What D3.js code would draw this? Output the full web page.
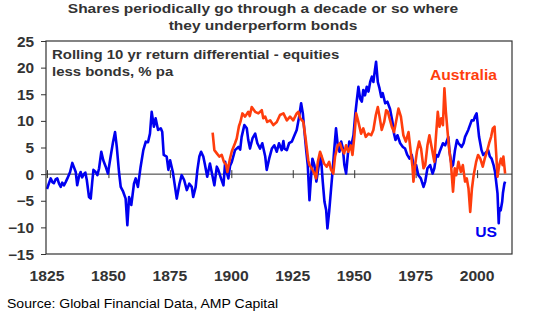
<!DOCTYPE html>
<html lang="en">
<head>
  <meta charset="utf-8">
  <title>Shares vs bonds</title>
  <script src="https://d3js.org/d3.v7.min.js"></script>
  <style>
    body { margin: 0; background: #fff; }
    .line { fill: none; stroke-width: 2.6px; stroke-linejoin: round; }
    .tick-label { font: bold 14px "Liberation Sans", Arial, sans-serif; fill: #333; }
    .note { font: bold 13px "Liberation Sans", Arial, sans-serif; fill: #333; }
  </style>
</head>
<body>
<svg width="533" height="321"></svg>
<script>

// rolling 10 yr return, equities less bonds (% pa) -- [year, value]
var usSeries = [
  [1825.0,-2.8],[1825.6,-2.0],[1826.5,-0.8],[1827.2,-1.5],[1827.8,-1.7],[1828.5,-1.0],[1829.2,-0.8],
  [1829.9,-1.8],[1830.6,-2.4],[1831.2,-1.6],[1831.9,-2.1],[1832.6,-1.5],[1833.3,-0.8],[1834.4,0.4],
  [1835.3,2.1],[1835.8,1.5],[1836.7,0.4],[1837.3,-2.1],[1838.0,-0.5],[1838.7,0.4],[1839.3,-0.6],
  [1840.0,0.0],[1840.6,0.3],[1841.2,-1.1],[1842.1,-4.3],[1842.8,-4.6],[1843.4,-1.5],[1843.9,0.8],
  [1844.8,0.4],[1845.5,-0.2],[1846.2,1.1],[1847.1,4.2],[1847.9,2.6],[1848.9,1.4],[1849.8,0.1],
  [1850.9,3.3],[1851.9,6.1],[1852.7,7.9],[1853.4,5.1],[1854.3,0.4],[1855.0,-2.4],[1856.0,-3.3],
  [1857.0,-4.6],[1857.7,-9.6],[1858.4,-4.3],[1859.3,-5.8],[1860.4,-1.8],[1861.1,-0.8],[1862.0,-2.4],
  [1863.1,1.4],[1864.2,4.5],[1865.2,6.1],[1866.1,6.0],[1866.9,7.6],[1867.6,11.7],[1868.5,8.9],
  [1869.2,10.5],[1870.2,8.3],[1871.3,8.6],[1871.9,7.9],[1872.5,3.6],[1873.7,3.3],[1874.4,0.8],
  [1875.1,2.6],[1876.2,0.4],[1877.1,-2.4],[1877.8,-4.6],[1878.9,-1.8],[1879.8,-0.2],[1880.8,-1.1],
  [1881.9,-3.0],[1882.9,-1.8],[1883.9,-2.4],[1884.5,-4.3],[1885.5,-2.4],[1886.2,0.8],[1887.0,3.3],
  [1887.7,4.2],[1888.6,3.3],[1889.3,1.7],[1890.2,-0.5],[1891.3,2.0],[1892.4,-0.5],[1893.1,-2.1],
  [1894.1,1.4],[1894.7,0.8],[1895.8,-0.8],[1896.8,-2.1],[1897.5,2.3],[1898.1,0.4],[1898.8,-0.8],
  [1899.5,1.6],[1900.2,2.3],[1901.5,4.5],[1902.9,5.1],[1903.6,4.6],[1904.2,7.0],[1905.3,9.2],
  [1906.3,8.6],[1906.9,6.4],[1907.6,4.8],[1908.6,6.7],[1909.7,7.6],[1910.6,5.8],[1911.7,4.8],
  [1912.6,5.8],[1913.8,3.3],[1914.4,0.8],[1915.4,2.9],[1916.5,4.8],[1917.5,5.4],[1918.5,4.2],
  [1919.4,5.8],[1920.5,4.5],[1921.2,6.2],[1921.6,4.8],[1922.6,4.5],[1923.5,5.8],[1924.6,6.1],
  [1925.7,7.3],[1926.6,8.3],[1927.6,10.8],[1928.4,13.3],[1929.1,11.4],[1929.7,8.3],
  [1930.5,4.3],[1931.1,1.7],[1931.8,-4.9],[1932.3,-1.4],[1933.0,2.9],[1933.8,1.7],[1934.6,-1.4],
  [1935.4,1.1],[1936.4,3.6],[1937.2,-1.4],[1937.9,-5.2],[1938.6,-6.8],[1939.1,-10.2],[1939.8,-7.1],
  [1940.6,-2.7],[1941.3,1.1],[1941.9,4.8],[1942.6,8.6],[1943.3,5.4],[1944.0,4.2],[1944.7,6.1],
  [1945.4,4.8],[1946.0,1.7],[1946.7,0.1],[1947.4,3.6],[1948.0,6.1],[1948.7,5.1],[1949.7,7.3],
  [1950.4,11.1],[1951.0,13.6],[1951.7,16.4],[1952.4,14.2],[1953.1,13.6],[1953.7,15.8],[1954.4,14.8],
  [1955.1,16.4],[1955.8,15.5],[1956.5,17.3],[1957.2,18.3],[1957.8,17.3],[1958.5,19.8],[1958.9,21.1],
  [1959.6,17.3],[1960.3,16.1],[1961.0,14.5],[1961.6,15.2],[1962.6,13.3],[1963.5,13.6],[1964.6,12.2],
  [1965.5,10.0],[1966.2,7.6],[1966.8,6.4],[1967.6,7.3],[1968.7,5.8],[1969.8,5.1],[1970.7,4.8],
  [1971.6,3.6],[1972.5,2.9],[1973.4,3.6],[1974.4,1.1],[1975.2,1.7],[1976.1,-0.2],[1977.1,-0.8],
  [1978.2,-2.4],[1978.9,-1.4],[1979.8,1.1],[1980.9,1.7],[1981.9,0.1],[1982.6,1.1],[1983.4,3.6],
  [1984.1,3.3],[1985.0,4.5],[1986.1,5.8],[1987.0,5.4],[1988.3,7.0],[1988.8,4.2],[1989.7,1.4],
  [1990.2,1.7],[1991.0,4.5],[1991.8,6.4],[1992.4,5.8],[1993.7,5.1],[1994.5,5.8],[1995.1,7.0],
  [1996.4,8.3],[1997.8,10.1],[1998.6,10.1],[1999.1,10.8],[1999.8,11.4],[2000.8,7.0],[2001.8,4.5],
  [2002.5,3.6],[2003.2,3.9],[2004.5,4.5],[2005.2,3.3],[2005.9,2.9],[2006.7,1.7],[2007.3,0.4],
  [2008.3,-3.6],[2008.8,-9.2],[2009.1,-6.4],[2009.6,-6.8],[2010.2,-5.2],[2010.5,-3.6],[2011.1,-1.8],
  [2011.4,-1.4]
];

var ausSeries = [
  [1892.4,7.8],[1893.1,4.5],[1894.1,3.9],[1895.1,3.3],[1896.1,3.6],[1897.0,2.3],[1897.9,1.7],
  [1898.4,0.4],[1899.4,2.8],[1900.2,4.3],[1901.5,5.8],[1902.2,6.7],[1903.1,9.0],[1903.7,9.8],
  [1904.5,11.4],[1905.6,10.8],[1906.9,11.7],[1907.5,10.9],[1908.3,12.6],[1909.7,11.7],[1911.0,11.4],
  [1912.4,12.0],[1913.0,10.5],[1913.8,10.8],[1914.6,9.8],[1915.8,10.1],[1917.1,9.2],[1918.5,9.8],
  [1919.8,11.1],[1921.2,11.4],[1922.6,10.1],[1923.9,10.8],[1925.2,10.1],[1926.6,11.4],[1927.3,11.7],
  [1928.0,10.5],[1929.3,9.8],[1930.3,6.4],[1931.3,2.6],[1931.8,1.7],[1932.7,1.1],[1933.8,0.1],
  [1934.5,-0.8],[1935.2,2.3],
  [1936.1,4.2],[1936.8,3.3],[1937.7,2.0],[1938.8,1.4],[1939.8,2.3],[1940.6,0.8],[1941.5,0.1],
  [1942.2,3.3],[1943.3,5.4],[1944.2,5.8],[1944.9,4.8],[1945.9,3.9],[1946.7,5.4],[1947.6,4.2],
  [1948.6,5.4],[1949.3,3.6],[1950.1,7.3],[1950.8,11.4],[1951.7,9.8],[1952.8,7.6],[1953.7,8.6],
  [1954.7,7.0],[1955.8,7.6],[1956.9,7.3],[1957.8,8.3],[1958.8,11.1],[1959.6,12.6],[1960.3,10.8],
  [1961.2,8.3],[1962.2,9.8],[1963.0,12.0],[1963.7,11.7],[1964.6,10.1],[1965.3,8.9],[1966.2,7.9],
  [1967.0,9.8],[1968.0,12.3],[1969.0,10.8],[1970.0,7.3],[1971.0,6.1],[1972.1,7.9],[1973.0,4.2],
  [1973.7,1.4],[1974.1,-1.4],[1974.8,1.7],[1975.5,4.2],[1976.4,6.1],[1977.2,4.8],[1978.2,1.1],
  [1978.9,1.7],[1979.8,5.4],[1980.6,7.3],[1981.6,4.8],[1982.6,2.3],[1983.2,6.7],[1984.0,11.7],
  [1984.7,8.9],[1985.4,10.5],[1986.1,9.2],[1986.7,16.1],[1987.3,11.7],[1988.0,7.9],[1988.6,4.8],
  [1989.3,2.3],[1990.2,-3.3],[1990.9,1.1],[1991.5,-0.2],[1992.4,2.3],[1993.4,0.4],[1994.2,1.7],
  [1995.1,-1.4],[1995.8,-0.8],[1996.5,-2.7],[1997.2,-7.1],[1997.9,-2.7],[1998.6,-0.2],[1999.6,2.3],
  [2000.4,3.6],[2001.3,2.9],[2002.3,1.4],[2003.1,2.9],[2004.0,4.2],[2004.9,5.8],[2005.7,7.0],
  [2006.4,8.6],[2007.1,8.9],[2007.8,3.6],[2008.3,-0.5],[2009.0,1.7],[2009.7,2.9],[2010.4,1.7],
  [2010.7,3.3],[2011.4,0.1]
];

var yearTicks = [1825, 1850, 1875, 1900, 1925, 1950, 1975, 2000];
var valueTicks = [-15, -10, -5, 0, 5, 10, 15, 20, 25];

var titleLines = ["Shares periodically go through a decade or so where", "they underperform bonds"];
var noteLines = ["Rolling 10 yr return differential - equities", "less bonds, % pa"];

var svg = d3.select("svg");

var box = {left: 46, right: 512, top: 41, bottom: 254};

var x = d3.scaleLinear().domain([1824.6, 2014.2]).range([box.left, box.right]),
    y = d3.scaleLinear().domain([-15, 25]).range([box.bottom, box.top]);

var line = d3.line()
    .x(function(d) { return x(d[0]); })
    .y(function(d) { return y(d[1]); });

// the original artwork is a bit wider than the font, stretch text sideways
function place(sel, px, py, sx) {
  sel.attr("x", 0).attr("y", 0)
     .attr("transform", function(d, i) {
       var a = typeof px === "function" ? px(d, i) : px,
           b = typeof py === "function" ? py(d, i) : py;
       return "translate(" + a + "," + b + ") scale(" + sx + ",1)";
     });
}

// title
svg.append("g").selectAll("text")
    .data(titleLines)
  .enter().append("text")
    .attr("text-anchor", "middle")
    .style("font", "bold 13.5px 'Liberation Sans', Arial, sans-serif")
    .style("fill", "#333")
    .text(function(d) { return d; })
    .call(place, 263, function(d, i) { return 13 + i * 16.5; }, 1.15);

// y axis (left, ticks outside)
var yAxis = svg.append("g")
    .attr("transform", "translate(" + box.left + ",0)")
    .call(d3.axisLeft(y).tickValues(valueTicks).tickSize(5).tickPadding(7));
yAxis.select(".domain").remove();
yAxis.selectAll("line").attr("stroke", "#333");
yAxis.selectAll("text")
    .attr("class", "tick-label")
    .attr("dy", "0.36em")
    .style("font", null)
    .call(place, -12, 0, 1.1);

// x axis sits on zero line, labels sit under the plot
var xAxis = svg.append("g")
    .attr("transform", "translate(0," + y(0) + ")")
    .call(d3.axisBottom(x).tickValues(yearTicks).tickSize(0).tickFormat(""));
xAxis.select(".domain").attr("stroke", "#333").attr("d", "M" + box.left + ",0H" + box.right);
xAxis.selectAll(".tick line").attr("stroke", "#333").attr("y1", -4).attr("y2", 4);

svg.append("g").selectAll("text")
    .data(yearTicks)
  .enter().append("text")
    .attr("class", "tick-label")
    .attr("text-anchor", "middle")
    .text(function(d) { return d; })
    .call(place, function(d) { return x(d); }, 281, 1.12);

// series
svg.append("path")
    .datum(usSeries)
    .attr("class", "line")
    .attr("d", line)
    .style("stroke", "#0000f0");

svg.append("path")
    .datum(ausSeries)
    .attr("class", "line")
    .attr("d", line)
    .style("stroke", "#ff3d0d");

// frame
svg.append("rect")
    .attr("x", box.left)
    .attr("y", box.top)
    .attr("width", box.right - box.left)
    .attr("height", box.bottom - box.top)
    .attr("fill", "none")
    .attr("stroke", "#333")
    .attr("stroke-width", 1.2);

svg.append("g").selectAll("text")
    .data(noteLines)
  .enter().append("text")
    .attr("class", "note")
    .text(function(d) { return d; })
    .call(place, 52, function(d, i) { return 59 + i * 17; }, 1.15);

svg.append("text")
    .attr("text-anchor", "end")
    .style("font", "bold 14px 'Liberation Sans', Arial, sans-serif")
    .style("fill", "#ff3d0d")
    .text("Australia")
    .call(place, 497, 80, 1.12);

svg.append("text")
    .attr("text-anchor", "end")
    .style("font", "bold 14px 'Liberation Sans', Arial, sans-serif")
    .style("fill", "#0000f0")
    .text("US")
    .call(place, 497, 237, 1.12);

svg.append("text")
    .style("font", "13.5px 'Liberation Sans', Arial, sans-serif")
    .style("fill", "#000")
    .text("Source: Global Financial Data, AMP Capital")
    .call(place, 7, 308, 1.04);

</script>
</body>
</html>
